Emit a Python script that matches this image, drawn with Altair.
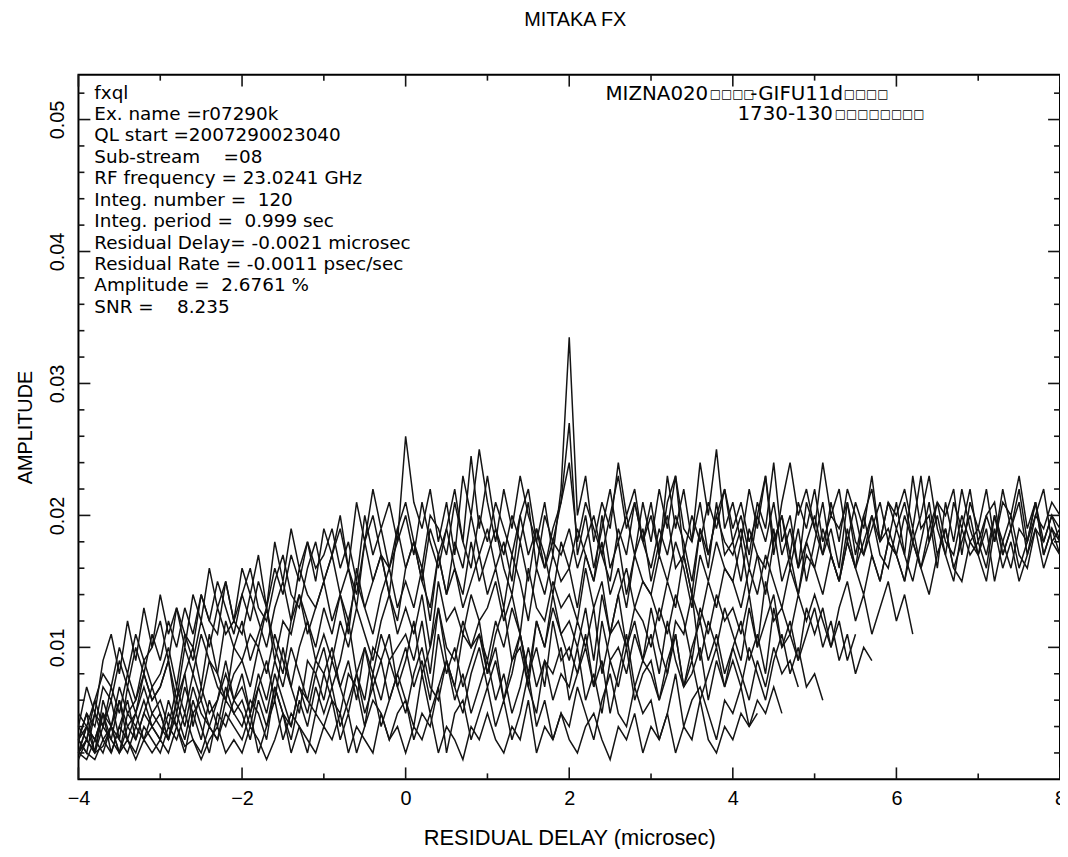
import altair as alt
import pandas as pd

# Fringe amplitude curves, in units of 0.001,
# sampled every 0.1 microsec starting at -4.0 microsec.
X_START = -4.0
X_STEP = 0.1

amp_01 = [4,7,5,9,11,8,12,9,13,10, 14,11,13,10,14,12,16,13,15,12, 16,14,17,13,18,15,19,16,18,15,
          19,17,20,16,21,18,22,19,21,18, 26,21,19,22,18,21,17,23,20,25, 21,18,22,19,23,20,18,21,17,22,
          33.5,20,23,18,21,19,24,20,22,18, 21,17,23,19,22,18,24,20,25,19, 21,18,22,19,23,17,21,24,20,22,
          19,24,20,22,18,21,19,23,18,21, 20,22,19,23,18,21,20,22,17,21, 19,22,18,21,20,23,19,21,18,20, 19]
amp_02 = [3,5,4,7,6,9,7,10,8,11, 9,12,10,13,11,14,12,11,15,12, 14,12,15,13,16,14,17,15,18,16,
          17,19,16,18,15,20,17,19,16,18, 20,17,21,18,16,19,22,18,24.5,19, 23,19,17,20,18,21,16,20,18,21,
          27,17,20,16,19,22,18,20,17,21, 18,22,19,23,17,20,18,21,19,22, 18,20,17,21,19,24,18,20,16,21,
          19,17,21,18,22,20,17,19,21,18, 21,17,23,19,20,16,21,18,22,19, 17,20,18,22,19,21,17,20,22,18, 19]
amp_03 = [4,3,6,4,7,5,8,6,9,7, 8,10,7,11,9,12,10,13,11,12, 11,14,12,10,13,15,12,16,14,13,
          15,17,14,16,13,18,15,17,14,19, 16,18,15,19,17,14,18,16,20,17, 19,16,18,15,20,17,19,16,18,17,
          19,16,18,20,17,15,19,17,21,18, 16,19,17,20,18,15,19,17,20,18, 17,19,16,20,18,21,17,19,16,18,
          20,17,19,16,21,18,17,20,18,19, 17,20,18,16,19,21,18,17,20,18, 19,17,20,18,16,19,18,21,17,19, 18]
amp_04 = [3,5,2,6,4,7,5,6,8,6, 7,9,6,10,8,11,9,8,12,10, 9,11,10,13,9,12,11,14,12,10,
          13,11,14,12,15,13,11,14,16,13, 15,13,16,12,17,14,16,13,15,17, 14,16,13,17,15,12,16,14,17,15,
          16,13,17,15,18,14,16,13,17,15, 14,17,15,18,16,13,17,15,18,16, 15,18,14,17,16,19,15,17,14,18,
          16,19,17,15,18,16,20,17,15,18, 17,15,19,16,18,20,17,15,19,17, 18,16,20,17,19,16,18,21,17,19, 17]
amp_05 = [2,4,3,5,4,6,3,5,7,5, 6,4,7,5,8,6,9,7,6,8, 9,7,10,8,11,9,7,10,12,9,
          11,9,12,10,13,11,9,12,14,11, 13,11,14,10,15,12,13,11,14,12, 13,15,12,14,11,16,13,12,15,13,
          14,12,16,13,15,11,14,16,13,15, 14,12,15,13,17,14,12,15,13,16, 15,13,16,14,17,15,13,16,14,17,
          16,14,17,15,18,16,14,17,15,18, 17,15,18,16,14,17,19,16,15,18, 17,15,19,16,18,15,17,19,16,18, 17]
amp_06 = [2,3,5,3,4,2,5,4,6,4, 5,3,6,4,7,5,4,6,8,6, 7,5,8,6,9,7,10,8,6,9,
          8,10,7,9,6,10,8,11,9,10, 11,9,12,8,13,10,9,12,10,11, 9,12,10,13,11,8,12,10,13,11,
          12,10,13,9,14,11,12,10,13,12, 10,13,11,14,12,9,13,11,14,12, 13,11,14,10,15,12,13,11,14,12,
          14,12,10,13,15,12,14,11,13,15, 12,14,11]
amp_07 = [2,4,3,5,2,4,6,3,5,4, 3,6,4,7,5,3,6,4,7,5, 6,4,7,5,8,6,4,7,5,8,
          6,9,7,5,8,10,7,9,6,8, 10,7,9,6,11,8,10,7,9,11, 8,10,6,9,11,8,10,7,12,9,
          10,8,11,7,12,9,10,8,11,9, 11,8,12,9,7,10,12,9,11,8, 10,12,9,11,8,13,10,12,9,11,
          13,10,12,9,11,8,10,9]
amp_08 = [2,1.5,3,2,4,3,2,4,3,5, 4,3,5,3,6,4,2,5,4,6, 5,3,6,4,7,5,3,6,4,7,
          5,7,4,6,8,5,7,4,6,8, 6,4,8,5,7,9,6,8,5,7, 9,6,8,5,7,10,7,9,6,8,
          7,10,6,8,5,9,7,10,6,8, 9,6,8,11,7,9,6,8,10,7, 9,7,10,8,6,9,11,8,10,7, 8,6]
amp_09 = [3,2,1.5,3,2,4,3,2,4,3, 2,4,3,5,3,2,4,3,5,4, 3,5,2,4,6,3,5,4,2,5,
          4,6,3,5,2,4,6,5,3,5, 6,3,5,4,7,2,5,6,3,5, 7,4,6,3,5,8,4,6,3,5,
          4,7,5,3,6,8,5,4,7,5, 6,3,5,8,4,6,7,5,3,6, 5,7,4,6,5,7,5]
amp_10 = [1.5,3,2,2.5,4,2,3,1.5,3,2, 3,2,4,2.5,3,1.5,3,4,2,3, 2,4,3,1.5,3,5,2,4,3,2,
          4,3,5,2,4,3,2,5,3,4, 2,4,3,5,2,4,3,1.5,4,3, 5,3,2,4,3,6,2,4,3,5,
          3,2,4,5,3,1.5,4,3,5,2, 4,3,5,2,4,3,6,3,2,4, 3,5,4,5]
amp_11 = [3,2,5,4,6,3,7,5,8,6, 7,9,5,8,10,7,11,8,6,10, 12,9,11,13,10,8,12,14,11,13,
          15,12,14,11,16,13,15,17,14,12, 16,18,15,13,17,19,16,14,18,15, 17,19,16,14,18,15,19,17,14,18,
          16,19,17,15,20,16,18,14,17,19, 15,18,20,16,17,14,19,16,21,17, 18,15,19,17,14,18,20,16,19,15,
          18,21,17,15,19,16,18,20,17,16, 19,17,15,18,21,17,19,16,18,20, 17,19,15,18,20,17,16,19,18,20, 18]
amp_12 = [3,4,2,5,3,6,4,3,5,7, 5,3,6,8,4,7,5,6,9,6, 8,5,7,9,6,10,7,5,9,8,
          10,7,9,12,8,6,10,9,11,7, 9,12,8,10,13,9,7,11,10,12, 8,11,13,9,10,7,12,10,14,11,
          9,12,10,13,8,11,14,10,12,9, 13,10,8,12,11,14,9,12,10,13, 11,9,13,10,12,14,10,11,9,13,
          11,13,10,12,9,11]
amp_13 = [2,3,2,4,3,2,4,5,3,4, 3,5,4,2,5,6,4,3,6,5, 4,6,5,3,7,5,4,7,6,5,
          8,6,5,8,7,4,8,6,9,7, 5,8,10,7,6,9,7,5,8,10, 7,9,6,8,11,7,5,9,8,10,
          6,8,10,7,9,5,8,11,7,9, 8,6,9,11,7,8,10,6,9,7, 10,8,6,9,7,10,8,9,7]
amp_14 = [5,4,6,8,7,10,8,11,9,10, 12,9,13,11,10,14,12,15,13,11, 14,16,13,12,15,17,14,13,16,18,
          15,17,19,16,14,18,20,17,16,19, 21,18,16,20,19,17,21,18,16,20, 18,21,19,17,20,22,18,16,19,21,
          24,18,21,19,17,20,23,19,21,18, 20,17,21,23,19,18,21,17,20,22, 19,21,18,20,23,18,20,17,21,19,
          22,18,20,19,21,17,20,22,18,21, 19,21,18,20,23,19,17,21,19,22, 18,20,21,17,19,22,18,20,19,21, 20]

series = {"01": amp_01, "02": amp_02, "03": amp_03, "04": amp_04, "05": amp_05,
          "06": amp_06, "07": amp_07, "08": amp_08, "09": amp_09, "10": amp_10,
          "11": amp_11, "12": amp_12, "13": amp_13, "14": amp_14}

x_major = [-4, -2, 0, 2, 4, 6, 8]
x_minor = [-3, -1, 1, 3, 5, 7]
y_major = [0.01, 0.02, 0.03, 0.04, 0.05]
y_minor = [0.002, 0.004, 0.006, 0.008, 0.012, 0.014, 0.016, 0.018, 0.022, 0.024, 0.026, 0.028,
           0.032, 0.034, 0.036, 0.038, 0.042, 0.044, 0.046, 0.048, 0.052]

info_lines = [
    "fxql",
    "Ex. name =r07290k",
    "QL start =2007290023040",
    "Sub-stream\u00a0\u00a0\u00a0\u00a0=08",
    "RF frequency = 23.0241 GHz",
    "Integ. number =\u00a0\u00a0120",
    "Integ. period =\u00a0\u00a00.999 sec",
    "Residual Delay= -0.0021 microsec",
    "Residual Rate = -0.0011 psec/sec",
    "Amplitude =\u00a0\u00a02.6761 %",
    "SNR =\u00a0\u00a0\u00a0\u00a08.235",
]
BOX = "\u25a1"
station_a = "MIZNA020"
station_b = "-GIFU11d"
source = "1730-130"

rows = []
for name, vals in series.items():
    for i, v in enumerate(vals):
        rows.append({"delay": round(X_START + X_STEP * i, 2), "amp": v / 1000.0, "series": name})
df = pd.DataFrame(rows)

W, H = 989, 710
INK = "#141414"

X = alt.X("delay:Q", scale=alt.Scale(domain=[-4, 8], nice=False, zero=False),
          axis=alt.Axis(values=x_major, format="d", title="RESIDUAL DELAY (microsec)",
                        labelPadding=9, titlePadding=20, titleFontSize=22,
                        labelFlush=False, labelOverlap=False))
Y = alt.Y("amp:Q", scale=alt.Scale(domain=[0, 0.0534], nice=False, zero=False),
          axis=alt.Axis(values=y_major, format=".2f", title="AMPLITUDE", labelAngle=270,
                        labelAlign="center", labelBaseline="bottom", labelPadding=11,
                        titlePadding=12, labelFlush=False, labelOverlap=False))

lines = alt.Chart(df).mark_line(color=INK, strokeWidth=1.5, strokeJoin="miter").encode(
    x=X, y=Y, detail="series:N", order="delay:Q")

dxM = pd.DataFrame({"delay": x_major})
dxm = pd.DataFrame({"delay": x_minor})
dyM = pd.DataFrame({"amp": y_major})
dym = pd.DataFrame({"amp": y_minor})

def xticks(d, L):
    bot = alt.Chart(d).mark_rule(color=INK, strokeWidth=1.6).encode(
        x=X, y=alt.value(H), y2=alt.value(H - L))
    top = alt.Chart(d).mark_rule(color=INK, strokeWidth=1.6).encode(
        x=X, y=alt.value(0), y2=alt.value(L))
    return [bot, top]

def yticks(d, L):
    left = alt.Chart(d).mark_rule(color=INK, strokeWidth=1.6).encode(
        y=Y, x=alt.value(0), x2=alt.value(L))
    right = alt.Chart(d).mark_rule(color=INK, strokeWidth=1.6).encode(
        y=Y, x=alt.value(W), x2=alt.value(W - L))
    return [left, right]

info = alt.Chart(pd.DataFrame({"t": [info_lines]})).mark_text(
    font="DejaVu Sans", fontSize=18.5, align="left", baseline="alphabetic", lineHeight=21.6,
    color="black").encode(text="t", x=alt.value(16), y=alt.value(24))

def label(txt, x, y, size=20, dy=0):
    return alt.Chart(pd.DataFrame({"t": [txt]})).mark_text(
        font="DejaVu Sans", fontSize=size, align="left", baseline="alphabetic", color="black",
        dy=dy).encode(text="t:N", x=alt.value(x), y=alt.value(y))

labels = [
    label(station_a, 531, 25),
    label(BOX * 4, 636, 25, size=12, dy=-2),
    label(station_b, 677, 25),
    label(BOX * 4, 771, 25, size=12, dy=-2),
    label(source, 664, 46),
    label(BOX * 8, 762, 46, size=12, dy=-2),
]

layers = [lines] + xticks(dxM, 12) + xticks(dxm, 6) + yticks(dyM, 12) + yticks(dym, 6) + [info] + labels

chart = alt.layer(*layers).properties(
    width=W, height=H, background="white",
    title=alt.Title("MITAKA FX", fontSize=20, font="Liberation Sans", fontWeight="normal",
                    color="black", anchor="middle", frame="group", offset=44, dx=6),
    autosize=alt.AutoSizeParams(type="none"),
    padding={"left": 71, "top": 64, "right": 0, "bottom": 67},
).configure_view(stroke="black", strokeWidth=2).configure_axis(
    ticks=False, tickSize=0, domain=False, grid=False,
    labelFont="Liberation Sans", labelFontSize=20, labelColor="black",
    titleFont="Liberation Sans", titleFontSize=20, titleFontWeight="normal", titleColor="black",
)

chart.save("out.html", embed_options={"renderer": "svg", "actions": False})
